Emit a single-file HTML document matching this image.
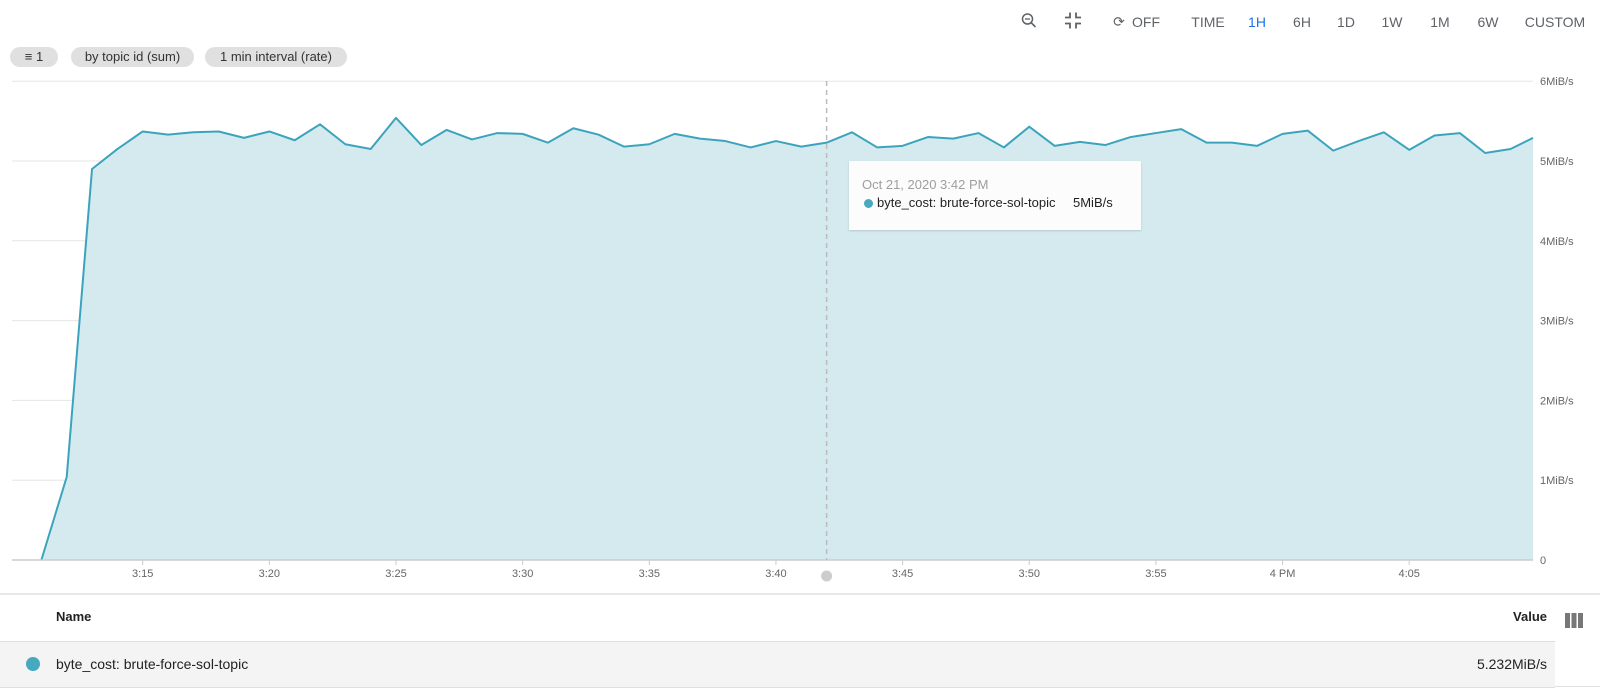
<!DOCTYPE html>
<html><head><meta charset="utf-8"><style>
body{margin:0;width:1600px;height:690px;background:#fff;font-family:"Liberation Sans",sans-serif;overflow:hidden;position:relative}
.t{position:absolute;font-size:14px;color:#5f6368;transform:translate(-50%,-50%);white-space:nowrap}
.chip{position:absolute;top:47px;height:20px;border-radius:10px;background:#e0e0e0;font-size:13px;color:#333;line-height:20px;text-align:center}
</style></head><body>
<div class="t" style="left:1029px;top:22px"><svg width="16" height="16"><circle cx="6.5" cy="6.5" r="5" fill="none" stroke="#5f6368" stroke-width="1.5"/><line x1="4" y1="6.5" x2="9" y2="6.5" stroke="#5f6368" stroke-width="1.3"/><line x1="10" y1="10" x2="14.5" y2="14.5" stroke="#5f6368" stroke-width="1.6"/></svg></div>
<div class="t" style="left:1073px;top:22px"><svg width="18" height="18"><path d="M6 1v5H1M12 1v5h5M6 17v-5H1M12 17v-5h5" fill="none" stroke="#5f6368" stroke-width="1.8"/></svg></div>
<div class="t" style="left:1119px;top:22px">⟳</div>
<div class="t" style="left:1146px;top:22px">OFF</div>
<div class="t" style="left:1208px;top:22px">TIME</div>
<div class="t" style="left:1257px;top:22px;color:#1a73e8">1H</div>
<div class="t" style="left:1302px;top:22px">6H</div>
<div class="t" style="left:1346px;top:22px">1D</div>
<div class="t" style="left:1392px;top:22px">1W</div>
<div class="t" style="left:1440px;top:22px">1M</div>
<div class="t" style="left:1488px;top:22px">6W</div>
<div class="t" style="left:1555px;top:22px">CUSTOM</div>
<div class="chip" style="left:10px;width:48px">≡ 1</div>
<div class="chip" style="left:71px;width:123px">by topic id (sum)</div>
<div class="chip" style="left:205px;width:142px">1 min interval (rate)</div>
<svg id="chart" width="1600" height="690" style="position:absolute;left:0;top:0"></svg>
<div style="position:absolute;left:0;top:593px;width:1600px;border-top:2px solid #e8e8e8"></div>
<div style="position:absolute;left:56px;top:609px;font-size:13px;font-weight:bold;color:#222">Name</div>
<div style="position:absolute;right:53px;top:609px;font-size:13px;font-weight:bold;color:#222">Value</div>
<div style="position:absolute;left:1565px;top:613px;width:18px;height:15px;background:repeating-linear-gradient(90deg,#777 0 5px,transparent 5px 6.5px)"></div>
<div style="position:absolute;left:0;top:641px;width:1555px;height:45px;background:#f4f4f4;border-top:1px solid #e0e0e0;border-bottom:1px solid #e0e0e0">
<div style="position:absolute;left:26px;top:15px;width:14px;height:14px;border-radius:50%;background:#46a9c0"></div>
<div style="position:absolute;left:56px;top:14px;font-size:14px;color:#222">byte_cost: brute-force-sol-topic</div>
<div style="position:absolute;right:8px;top:14px;font-size:14px;color:#222">5.232MiB/s</div>
</div>
<div style="position:absolute;left:1555px;top:686px;width:45px;border-top:1px solid #e0e0e0"></div>
<div style="position:absolute;left:849px;top:161px;width:292px;height:69px;background:#fcfcfc;box-shadow:0 1px 2px rgba(0,0,0,.15)">
<div style="position:absolute;left:13px;top:16px;font-size:13px;color:#9e9e9e">Oct 21, 2020 3:42 PM</div>
<div style="position:absolute;left:15px;top:38px;width:9px;height:9px;border-radius:50%;background:#46a9c0"></div>
<div style="position:absolute;left:28px;top:34px;font-size:13px;color:#222">byte_cost: brute-force-sol-topic</div>
<div style="position:absolute;left:224px;top:34px;font-size:13px;color:#222">5MiB/s</div>
</div>
<script>
const values=[0,1.04,4.90,5.15,5.37,5.33,5.36,5.37,5.29,5.37,5.26,5.46,5.21,5.15,5.54,5.20,5.39,5.27,5.35,
5.34,5.23,5.41,5.33,5.18,5.21,5.34,5.28,5.25,5.17,5.25,5.18,5.23,5.36,5.17,5.19,5.30,5.28,5.35,5.17,
5.43,5.19,5.24,5.20,5.30,5.35,5.40,5.23,5.23,5.19,5.34,5.38,5.13,5.25,5.36,5.14,5.32,5.35,5.10,5.15,5.29];
const startMinute=11; // 3:11
const yTicks=[0,1,2,3,4,5,6];
const yTickLabels=["0","1MiB/s","2MiB/s","3MiB/s","4MiB/s","5MiB/s","6MiB/s"];
const xTicks=[15,20,25,30,35,40,45,50,55,60,65];
const xTickLabels=["3:15","3:20","3:25","3:30","3:35","3:40","3:45","3:50","3:55","4 PM","4:05"];
const hoverMinute=42;
const L=12,R=1533,Y0=560,PX=79.8;
const xs=m=>142.7+(m-15)*25.33;
const ys=v=>Y0-v*PX;
const svg=document.getElementById('chart');const NS='http://www.w3.org/2000/svg';
function mk(t,a){const e=document.createElementNS(NS,t);for(const k in a)e.setAttribute(k,a[k]);svg.appendChild(e);return e;}
yTicks.forEach((v,i)=>{
 if(v>0){const g=mk('line',{x1:L,x2:R,y1:ys(v),y2:ys(v),stroke:'#e6e6e6','stroke-width':1});
 
 }
 const t=mk('text',{x:1540,y:ys(v)+4,'font-size':11,fill:'#666','font-family':'Liberation Sans, sans-serif'});t.textContent=yTickLabels[i];
 
 
});
const pts=values.map((v,i)=>[Math.min(xs(startMinute+i),R),ys(v)]);
const area=mk('path',{d:'M'+pts[0][0]+','+Y0+' L'+pts.map(p=>p.join(',')).join(' L')+' L'+pts[pts.length-1][0]+','+Y0+'Z',fill:'#d5eaef'});


const line=mk('polyline',{points:pts.map(p=>p.join(',')).join(' '),fill:'none',stroke:'#3ba4bc','stroke-width':2,'stroke-linejoin':'round'});


const ax=mk('line',{x1:L,x2:R,y1:Y0,y2:Y0,stroke:'#ccc','stroke-width':1.5});


xTicks.forEach((m,i)=>{
 mk('line',{x1:xs(m),x2:xs(m),y1:Y0,y2:Y0+5,stroke:'#ccc'});
 const t=mk('text',{x:xs(m),y:577,'font-size':11,fill:'#666','text-anchor':'middle','font-family':'Liberation Sans, sans-serif'});t.textContent=xTickLabels[i];
 
 
});
const hx=xs(hoverMinute);
const cl=mk('line',{x1:hx,x2:hx,y1:81,y2:Y0,stroke:'#bbb','stroke-width':1.5,'stroke-dasharray':'5,4'});


const hd=mk('circle',{cx:hx,cy:576,r:5.5,fill:'#ccc'});


</script>
</body></html>
